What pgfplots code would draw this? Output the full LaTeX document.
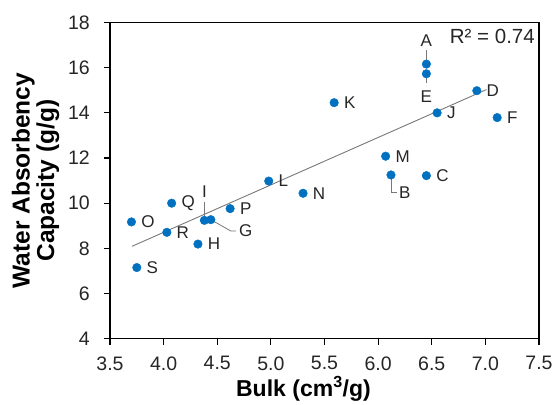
\documentclass[border=0pt]{standalone}
\usepackage{pgfplots}
\pgfplotsset{compat=1.18}
\usepackage{pgfplotstable}
\usepackage{fontspec}
\setmainfont{Liberation Sans}

\definecolor{dotblue}{RGB}{0,112,192}
\definecolor{trend}{RGB}{120,120,120}

% Bulk volume (cm^3/g) vs. water absorbency capacity (g/g)
\pgfplotstableread{
x     y      lbl
6.45  16.16  {}
6.12  11.25  {}
6.45  11.22  C
6.92  14.98  D
6.45  15.73  {}
7.11  13.79  F
4.44  9.27   {}
4.32  8.19   H
4.38  9.24   {}
6.55  14.00  J
5.59  14.45  K
4.98  10.98  L
6.07  12.08  M
5.30  10.44  N
3.70  9.17   O
4.62  9.76   P
4.075 10.00  Q
4.03  8.71   R
3.75  7.15   S
}\wacdata

\newcommand{\tickfont}{\fontsize{19.5}{23}\selectfont}
\newcommand{\lblfont}{\fontsize{17}{20}\selectfont}

\begin{document}
\begin{tikzpicture}
\useasboundingbox (-110pt,-65.3pt) rectangle (446pt,338.7pt);
\begin{axis}[
  at={(0,0)}, anchor=south west,
  scale only axis, width=429pt, height=316.2pt,
  xmin=3.5, xmax=7.5, ymin=4, ymax=18,
  xtick={3.5,4,4.5,5,5.5,6,6.5,7,7.5},
  ytick={4,6,8,10,12,14,16,18},
  % ticks point outwards (negative inward length); labels placed from the axis edge
  tick align=inside, major tick length=-6pt,
  tick style={black, line width=1.2pt},
  x tick label style={/pgf/number format/.cd,fixed,fixed zerofill,precision=1,/tikz/.cd,
    anchor=north, inner sep=0pt, yshift=-17.5pt},
  y tick label style={anchor=east, inner sep=0pt, xshift=-20pt},
  /pgf/number format/assume math mode=true,
  tick label style={font=\tickfont, text=black!85},
  axis line style={line width=1.5pt},
  xtick pos=bottom, ytick pos=left,
  xlabel={Bulk (cm\textsuperscript{3}/g)},
  xlabel style={at={(axis description cs:0.451,-0.183)}, anchor=base,
    font=\bfseries\fontsize{23}{25}\selectfont},
  ylabel={Water Absorbency\\Capacity (g/g)},
  ylabel style={at={(axis description cs:-0.1737,0.5)}, anchor=center,
    align=center, font=\bfseries\fontsize{24.5}{24.5}\selectfont},
  clip=false,
]
% linear trend line
\addplot[trend, line width=0.9pt] coordinates {(3.705,8.09) (7.01,15.03)};

% leader lines of the offset labels
\draw[trend, line width=0.8pt] (axis cs:6.45,16.16) -- ++(0pt,14pt);
\draw[trend, line width=0.8pt] (axis cs:6.45,15.73) -- ++(0pt,-9.5pt);
\draw[trend, line width=0.8pt] (axis cs:4.38,9.24) -- ++(0pt,18.6pt);
\draw[trend, line width=0.8pt] (axis cs:4.44,9.27) -- ++(20pt,-11.3pt) -- ++(5pt,0pt);
\draw[trend, line width=0.8pt] (axis cs:6.12,11.25) -- ++(0pt,-17.3pt) -- ++(6.5pt,0pt);

% samples
\addplot[only marks, mark=*, mark size=4.3pt, color=dotblue,
  point meta=explicit symbolic,
  nodes near coords,
  every node near coord/.append style={anchor=west, xshift=9.7pt,
    inner sep=0pt, font=\lblfont, text=black!85}]
  table[x=x, y=y, meta=lbl] {\wacdata};

% labels placed away from their points
\node[font=\lblfont, inner sep=0pt, text=black!85, yshift=23.3pt] at (axis cs:6.45,16.16) {A};
\node[font=\lblfont, inner sep=0pt, text=black!85, yshift=-23pt] at (axis cs:6.45,15.73) {E};
\node[font=\lblfont, inner sep=0pt, text=black!85, yshift=28.6pt] at (axis cs:4.38,9.24) {I};
\node[font=\lblfont, inner sep=0pt, text=black!85, xshift=35pt, yshift=-11.3pt] at (axis cs:4.44,9.27) {G};
\node[font=\lblfont, inner sep=0pt, text=black!85, xshift=13.7pt, yshift=-17.3pt] at (axis cs:6.12,11.25) {B};

\node[anchor=east, font=\fontsize{20.5}{24}\selectfont, inner sep=0pt, text=black!85] at (rel axis cs:0.9907,0.955) {R² = 0.74};
\end{axis}
\end{tikzpicture}
\end{document}
